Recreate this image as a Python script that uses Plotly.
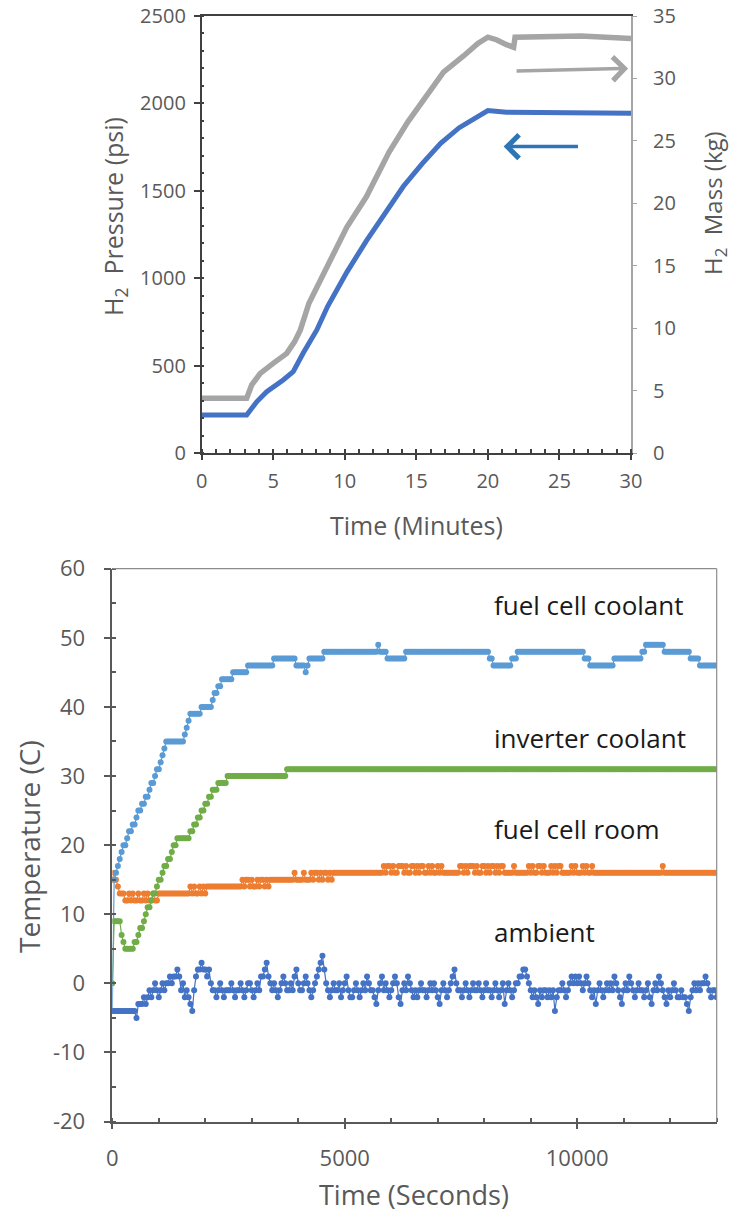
import numpy as np
import plotly.graph_objects as go

# ---------------- Top chart data (time in minutes) ----------------
pressure_time_min = [0, 3.15, 3.85, 4.55, 5.7, 6.4, 7.1, 8.05, 8.8, 10.15, 11.5, 12.8,
                     14.1, 15.4, 16.7, 18.0, 19.3, 20.0, 21.3, 25, 30]
pressure_psi = [217, 217, 293, 351, 418, 465, 572, 704, 838, 1035, 1212, 1369,
                1526, 1654, 1772, 1861, 1930, 1959, 1949, 1945, 1943]

mass_time_min = [0, 3.15, 3.5, 4.1, 5.0, 5.95, 6.5, 6.9, 7.5, 8.8, 10.15, 11.5, 13.1,
                 14.4, 15.7, 16.9, 18.3, 19.3, 20.0, 20.6, 21.3, 21.8, 21.9, 25, 26.5, 30]
mass_kg = [4.38, 4.38, 5.45, 6.38, 7.18, 7.98, 8.92, 9.86, 12.0, 15.0, 18.1, 20.5, 24.1,
           26.5, 28.5, 30.5, 31.8, 32.8, 33.3, 33.1, 32.7, 32.5, 33.3, 33.3, 33.4, 33.2]

# ---------------- Bottom chart data (logged every 40 s, run-length) ----------------
SAMPLE_S = 40

coolant_levels = [-4, 15, 16, 17, 18, 19, 20, 21, 22, 23, 24, 25, 26, 27, 28, 29, 30, 31, 32, 33, 34, 35,
                  36, 37, 38, 39, 40, 41, 42, 43, 44, 45, 46, 47,
                  46, 45, 46, 47, 48, 49, 48, 47, 48, 47, 46, 47, 48, 47, 46, 47, 48, 49, 48, 47, 46]
coolant_counts = [1, 1, 1, 1, 1, 1, 2, 1, 2, 2, 1, 2, 2, 2, 1, 2, 1, 2, 1, 1, 1, 10,
                  1, 1, 1, 6, 6, 1, 2, 2, 6, 8, 14, 12,
                  5, 1, 1, 8, 29, 1, 4, 10, 45, 2, 10, 3, 36, 3, 13, 15, 2, 10, 14, 5, 10]

inverter_levels = [0, 9, 7, 6, 5, 6, 7, 8, 9, 10, 11, 12, 13, 14, 15, 16, 17, 18, 19, 20, 21,
                   22, 23, 24, 25, 26, 27, 28, 29, 30, 31]
inverter_counts = [1, 4, 1, 1, 5, 2, 1, 2, 1, 1, 2, 1, 2, 1, 2, 1, 2, 2, 1, 2, 7,
                   2, 2, 2, 2, 2, 2, 3, 5, 32, 232]

room_levels = [15, 16, 15, 14, 13,
               12, 13, 12, 13, 12, 13, 12, 13, 12, 13, 12, 13, 12, 13,
               13,
               14, 13, 14, 13, 14, 13, 14, 13, 14,
               14,
               15, 14, 15, 14, 15, 14, 15, 14, 15, 14, 15, 14,
               15, 16, 15, 16, 15,
               16, 15, 16, 15, 16, 15, 16, 15, 16, 15, 16,
               16,
               17, 16, 17, 16, 17, 16, 17, 16, 17, 16, 17, 16, 17, 16, 17, 16, 17, 16, 17,
               16, 17, 16, 17, 16,
               17, 16, 17, 16, 17, 16, 17, 16, 17, 16, 17, 16, 17, 16, 17, 16, 17,
               16, 17, 16,
               17, 16, 17, 16, 17, 16, 17, 16,
               17, 16, 17, 16, 17, 16, 16,
               17, 16, 17, 16,
               17, 16, 17, 16, 17, 16, 16, 17, 16]
room_counts = [1, 1, 1, 1, 3,
               2, 1, 1, 1, 2, 1, 2, 1, 1, 1, 2, 1, 2, 2,
               15,
               1, 1, 1, 2, 1, 1, 1, 1, 1,
               18,
               1, 1, 2, 1, 1, 2, 1, 1, 2, 1, 1, 1,
               13, 1, 4, 1, 3,
               1, 1, 2, 1, 1, 1, 2, 1, 1, 1, 1,
               26,
               1, 1, 2, 1, 1, 2, 3, 1, 1, 2, 2, 1, 1, 1, 2, 2, 1, 1, 1,
               2, 1, 1, 1, 9,
               2, 1, 1, 1, 3, 1, 1, 2, 2, 1, 1, 1, 2, 1, 1, 1, 2,
               5, 1, 7,
               1, 1, 1, 2, 2, 1, 1, 3,
               1, 1, 1, 1, 2, 1, 4,
               1, 1, 1, 3,
               1, 1, 1, 2, 1, 1, 36, 1, 29]

ambient_c = [-4, -4, -4, -4, -4, -4, -4, -4, -4, -4, -4, -4, -4, -5, -3, -3, -3,
             -2, -3, -2, -1, -2, -1, 0, -1, -2, -1, 0, -1, 0, 0, 1, 0, 1, 1, 2, 1,
             -1, 0, -2, -1, -2, -3, -4, -1, 1, 2, 2, 3, 2, 2, 1, 2, 0,
             -1, -1, -2, -1, 0, -1, -2, -1, -1,
             -1, 0, -1, -2, -1, -1, 0, -1, -2, -1, 0, 0, -1, -2, -1, 0, -1, 1,
             1, 2, 3, 1,
             0, -1, 0, -1, -2, -1, 0, 1, 0, -1, -1, 0, -1, 1, 2,
             0, -1, -1, 0, 1, 0, -1, -2, -1, 0, 1, 2, 3, 4, 2, 0,
             -1, -2, -1, 0, -1, -1, 0, -2, -1, 0, 1,
             -1, -2, -2, -1, 0, -1, -2, -1, 0, -1, 1, 0, -1, -1, -2, -3, -1, 0, 1,
             -1, 0, -1, -2, -1, 0, 1, 0, -2, -3, -1, 0, -1, 1,
             0, -1, -2, -1, -2, -1, 0, -1, -1, -2, -1, 0, -1, 0, -1, -2, -3,
             -1, 0, -1, -2, -1, 0, 1, 2,
             0, -1, -1, -2, -1, 0, -1, -2, -1, 0,
             -1, -1, 0, -1, -2, -1, 0, -1, -1, -2, -1, 0, -1, -2, -1, 0, -3,
             -1, 0, -1, -2, -1, 0, 0, 1, 1, 2, 2, 1, 0,
             -1, -2, -1, -2, -3, -1, -2, -1, -1, -2, -1, -2, -1, -4,
             -2, -1, -1, 0, -1, -2, -1, 0, 1, 0, 1, 0, 1, 0,
             -1, 0, 1, 0, -1, -2, -1, -3, -1, 0, -1, -2, -1, 0, -1, 0, -1, 1,
             0, -1, -2, -3, -1, 0, -1, 1, 0, -1, -2,
             -1, 0, -1, -1, -2, -1, 0, -2, -3, -1, 0, -1, 1, 0, -1, -2, -3,
             -1, -2, -1, 0, -1, -2, -2, -1, -2, -2, -3, -4,
             -2, -1, 0, -1, 0, -1, 0, 0, 1, 0, -1, -2, -1, -1, -2]

temp_tick_vals = [-20, -10, 0, 10, 20, 30, 40, 50, 60]
temp_tick_text = ["-20", "-10", "0", "10", "20", "30", "40", "50", "60"]
time_s_tick_vals = [0, 5000, 10000]
time_s_tick_text = ["0", "5000", "10000"]

label_texts = ["fuel cell coolant", "inverter coolant", "fuel cell room", "ambient"]
label_temps = [54.8, 35.5, 22.4, 7.4]
label_time_s = 8170


def expand(levels, counts):
    v = np.repeat(np.array(levels, dtype=float), counts)
    return np.arange(len(v)) * SAMPLE_S, v


W, H = 735, 1213


def px(x):
    return x / W


def py(y):
    return 1 - y / H


TICK_GREY = "#595959"
FONT = "Open Sans"

fig = go.Figure()

# top chart traces
fig.add_trace(go.Scatter(x=mass_time_min, y=mass_kg, mode="lines",
                         line=dict(color="#A5A5A5", width=5.5), xaxis="x", yaxis="y2"))
fig.add_trace(go.Scatter(x=pressure_time_min, y=pressure_psi, mode="lines",
                         line=dict(color="#4472C4", width=5), xaxis="x", yaxis="y"))

# bottom chart traces
series = [
    (room_levels, room_counts, "#ED7D31"),
    (inverter_levels, inverter_counts, "#70AD47"),
    (coolant_levels, coolant_counts, "#5B9BD5"),
]
for lv, ct, col in series:
    t, v = expand(lv, ct)
    fig.add_trace(go.Scatter(x=t, y=v, mode="lines+markers",
                             line=dict(color=col, width=1.2),
                             marker=dict(color=col, size=6),
                             xaxis="x2", yaxis="y3"))
amb_t = np.arange(len(ambient_c)) * SAMPLE_S
fig.add_trace(go.Scatter(x=amb_t, y=ambient_c, mode="lines+markers",
                         line=dict(color="#4472C4", width=1.2),
                         marker=dict(color="#4472C4", size=6),
                         xaxis="x2", yaxis="y3"))

top_dom_x = [px(201.6), px(631)]
top_dom_y = [py(453), py(16)]
bot_dom_x = [px(112.3), px(716.7)]
bot_dom_y = [py(1121.6), py(568.7)]

fig.update_layout(
    width=W, height=H, margin=dict(l=0, r=0, t=0, b=0, pad=0),
    paper_bgcolor="white", plot_bgcolor="white", showlegend=False,
    font=dict(family=FONT, color=TICK_GREY),
    xaxis=dict(domain=top_dom_x, anchor="y", range=[0, 30], dtick=5, tick0=0,
               showline=True, linecolor="#404040", linewidth=1.5, mirror=True,
               ticks="outside", ticklen=5, tickcolor="#404040", tickwidth=1.5,
               minor=dict(dtick=1, ticks="inside", ticklen=4, tickcolor="#404040"),
               showgrid=False, zeroline=False, tickfont=dict(size=20, color=TICK_GREY),
               ticklabelstandoff=4, automargin=False),
    yaxis=dict(domain=top_dom_y, anchor="x", range=[0, 2500], dtick=500,
               showline=True, linecolor="#404040", linewidth=1.5,
               ticks="outside", ticklen=6, tickcolor="#404040", tickwidth=1.5,
               minor=dict(dtick=100, ticks="inside", ticklen=3, tickcolor="#404040"),
               showgrid=False, zeroline=False, tickfont=dict(size=20, color=TICK_GREY),
               ticklabelstandoff=4, automargin=False),
    yaxis2=dict(overlaying="y", side="right", anchor="x", range=[0, 35], dtick=5,
                showline=True, linecolor="#A5A5A5", linewidth=2,
                ticks="outside", ticklen=4, tickcolor="#A5A5A5",
                showgrid=False, zeroline=False, tickfont=dict(size=20, color=TICK_GREY),
                ticklabelstandoff=12, automargin=False),
    xaxis2=dict(domain=bot_dom_x, anchor="y3", range=[0, 13000],
                tickmode="array", tickvals=time_s_tick_vals, ticktext=time_s_tick_text,
                showline=True, linecolor="#595959", linewidth=1.5,
                ticks="outside", ticklen=6, tickcolor="#595959", tickwidth=1.5,
                minor=dict(dtick=1000, tick0=0, ticks="inside", ticklen=4, tickcolor="#595959"),
                showgrid=False, zeroline=False, tickfont=dict(size=22, color=TICK_GREY),
                ticklabelstandoff=10, automargin=False),
    yaxis3=dict(domain=bot_dom_y, anchor="x2", range=[-20, 60],
                tickmode="array", tickvals=temp_tick_vals, ticktext=temp_tick_text,
                showline=True, linecolor="#595959", linewidth=1.5,
                ticks="outside", ticklen=7, tickcolor="#595959", tickwidth=1.5,
                minor=dict(dtick=5, tick0=0, ticks="inside", ticklen=4, tickcolor="#595959"),
                showgrid=False, zeroline=False, tickfont=dict(size=22, color=TICK_GREY),
                ticklabelstandoff=14, automargin=False),
)

# light frame on the temperature chart
fig.add_shape(type="line", xref="x2 domain", yref="y3 domain", x0=0, x1=1, y0=1, y1=1,
              line=dict(color="#8C8C8C", width=1.2))
fig.add_shape(type="line", xref="x2 domain", yref="y3 domain", x0=1, x1=1, y0=0, y1=1,
              line=dict(color="#8C8C8C", width=1.2))

ann = []
# arrows in top chart
ann.append(dict(x=29.8, y=2200, ax=21.9, ay=2185, xref="x", yref="y", axref="x", ayref="y",
                text="", showarrow=True, arrowhead=4, arrowsize=1.3, arrowwidth=3.5,
                arrowcolor="#A5A5A5", standoff=0, startstandoff=0))
ann.append(dict(x=21.1, y=1753, ax=26.4, ay=1753, xref="x", yref="y", axref="x", ayref="y",
                text="", showarrow=True, arrowhead=4, arrowsize=1.3, arrowwidth=3.5,
                arrowcolor="#2E75B6", standoff=0, startstandoff=0))
# axis titles
titles = [
    ("Time (Minutes)", 416, 525, 0, 25),
    ("H<sub>2</sub>  Pressure (psi)", 114, 217, -90, 25),
    ("H<sub>2</sub>  Mass (kg)", 714, 203, -90, 24),
    ("Time (Seconds)", 414, 1194, 0, 27),
    ("Temperature (C)", 29, 847, -90, 28),
]
for txt, x0, y0, ang, sz in titles:
    ann.append(dict(x=px(x0), y=py(y0), xref="paper", yref="paper", showarrow=False,
                    xanchor="center", yanchor="middle", textangle=ang,
                    text=txt, font=dict(size=sz, color=TICK_GREY)))
# series labels
for txt, tv in zip(label_texts, label_temps):
    ann.append(dict(x=label_time_s, y=tv, xref="x2", yref="y3", xanchor="left", yanchor="middle",
                    showarrow=False, text=txt, font=dict(size=26, color="#1a1a1a")))
fig.update_layout(annotations=ann)

fig.write_html("out.html", config={"displayModeBar": False},
               post_script="document.body.style.margin='0';document.body.style.padding='0';")
